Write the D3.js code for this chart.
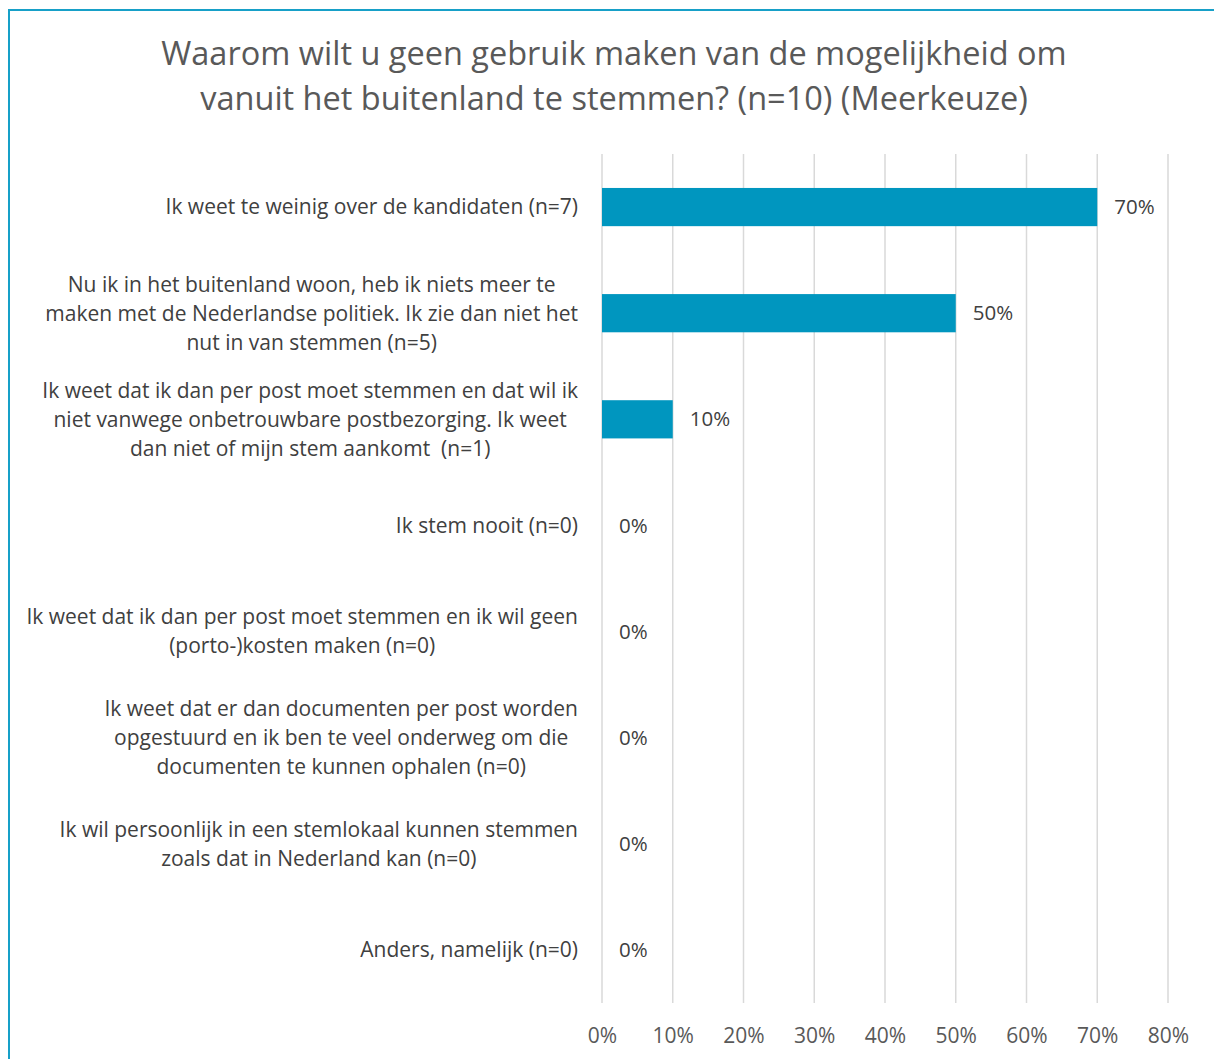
<!DOCTYPE html>
<html>
<head>
<meta charset="utf-8">
<script src="https://cdn.jsdelivr.net/npm/d3@7"></script>
<style>
  body { margin: 0; background: #fff; }
  text { white-space: pre; }
</style>
</head>
<body>
<div class="center"></div>
<script>
// Chart data
const titleLines = [
  "Waarom wilt u geen gebruik maken van de mogelijkheid om",
  "vanuit het buitenland te stemmen? (n=10) (Meerkeuze)"
];

const categories = [
  ["Ik weet te weinig over de kandidaten (n=7)"],
  ["Nu ik in het buitenland woon, heb ik niets meer te",
   "maken met de Nederlandse politiek. Ik zie dan niet het",
   "nut in van stemmen (n=5)"],
  ["Ik weet dat ik dan per post moet stemmen en dat wil ik",
   "niet vanwege onbetrouwbare postbezorging. Ik weet",
   "dan niet of mijn stem aankomt  (n=1)"],
  ["Ik stem nooit (n=0)"],
  ["Ik weet dat ik dan per post moet stemmen en ik wil geen",
   "(porto-)kosten maken (n=0)"],
  ["Ik weet dat er dan documenten per post worden",
   "opgestuurd en ik ben te veel onderweg om die",
   "documenten te kunnen ophalen (n=0)"],
  ["Ik wil persoonlijk in een stemlokaal kunnen stemmen",
   "zoals dat in Nederland kan (n=0)"],
  ["Anders, namelijk (n=0)"]
];

const values = [0.70, 0.50, 0.10, 0, 0, 0, 0, 0];

const xTicks = [0, 0.1, 0.2, 0.3, 0.4, 0.5, 0.6, 0.7, 0.8];

// Layout
const W = 1214, H = 1059;
const plot = {left: 602, right: 1168, top: 154, bottom: 1003};
const barColor = "#0096bf";
const fontFamily = "'Open Sans', sans-serif";

const svg = d3.select(".center").append("svg")
  .attr("width", W)
  .attr("height", H);

// outer border (continues past the right and bottom edge)
svg.append("rect")
  .attr("x", 9).attr("y", 10)
  .attr("width", W + 20).attr("height", H + 20)
  .attr("fill", "#fff")
  .attr("stroke", "#17a0c8")
  .attr("stroke-width", 2);

// scales
const xScale = d3.scaleLinear().domain([0, 0.8]).range([plot.left, plot.right]);
const yScale = d3.scaleBand()
  .domain(d3.range(categories.length))
  .range([plot.top, plot.bottom])
  .paddingInner(0.64)
  .paddingOuter(0.32);

// gridlines
svg.append("g").selectAll("line")
  .data(xTicks)
  .enter().append("line")
  .attr("x1", d => xScale(d)).attr("x2", d => xScale(d))
  .attr("y1", plot.top).attr("y2", plot.bottom)
  .attr("stroke", "#d9d9d9")
  .attr("stroke-width", 1.5);

// x axis labels
const xAxis = d3.axisBottom(xScale)
  .tickValues(xTicks)
  .tickFormat(d3.format(".0%"))
  .tickSize(0)
  .tickPadding(0);

const gx = svg.append("g")
  .attr("transform", `translate(0, ${plot.bottom + 33})`)
  .call(xAxis);
gx.select(".domain").remove();
gx.selectAll("text")
  .attr("dy", "0.35em")
  .attr("fill", "#595959")
  .style("font-family", fontFamily)
  .style("font-size", "21px");

// bars
svg.append("g").selectAll("rect")
  .data(values)
  .enter().append("rect")
  .attr("x", xScale(0))
  .attr("y", (d, i) => yScale(i))
  .attr("width", d => xScale(d) - xScale(0))
  .attr("height", yScale.bandwidth())
  .attr("fill", barColor);

// data labels
svg.append("g").selectAll("text")
  .data(values)
  .enter().append("text")
  .attr("x", d => xScale(d) + 17)
  .attr("y", (d, i) => yScale(i) + yScale.bandwidth() / 2)
  .attr("dy", "0.35em")
  .text(d => d3.format(".0%")(d))
  .attr("fill", "#404040")
  .style("font-family", fontFamily)
  .style("font-size", "20.5px");

// category labels
const lineH = 29;
const catLabels = svg.append("g").selectAll("text")
  .data(categories)
  .enter().append("text")
  .attr("text-anchor", "middle")
  .attr("fill", "#404040")
  .style("font-family", fontFamily)
  .style("font-size", "21px");

catLabels.each(function(lines, i) {
  const cy = yScale(i) + yScale.bandwidth() / 2;
  d3.select(this).selectAll("tspan")
    .data(lines)
    .enter().append("tspan")
    .attr("y", (d, j) => cy + (j - (lines.length - 1) / 2) * lineH)
    .attr("dy", "0.35em")
    .text(d => d);
});

// right-align the block at 578, centre each line inside it (Excel style)
catLabels.each(function() {
  const t = d3.select(this);
  const spans = t.selectAll("tspan").nodes();
  const widest = d3.max(spans, s => s.getComputedTextLength());
  t.selectAll("tspan").attr("x", 578 - widest / 2);
});

// title
svg.append("text")
  .attr("text-anchor", "middle")
  .attr("fill", "#595959")
  .style("font-family", fontFamily)
  .style("font-size", "32.5px")
  .selectAll("tspan")
  .data(titleLines)
  .enter().append("tspan")
  .attr("x", 614)
  .attr("y", (d, i) => 54 + i * 45)
  .attr("dy", "0.35em")
  .text(d => d);
</script>
</body>
</html>
